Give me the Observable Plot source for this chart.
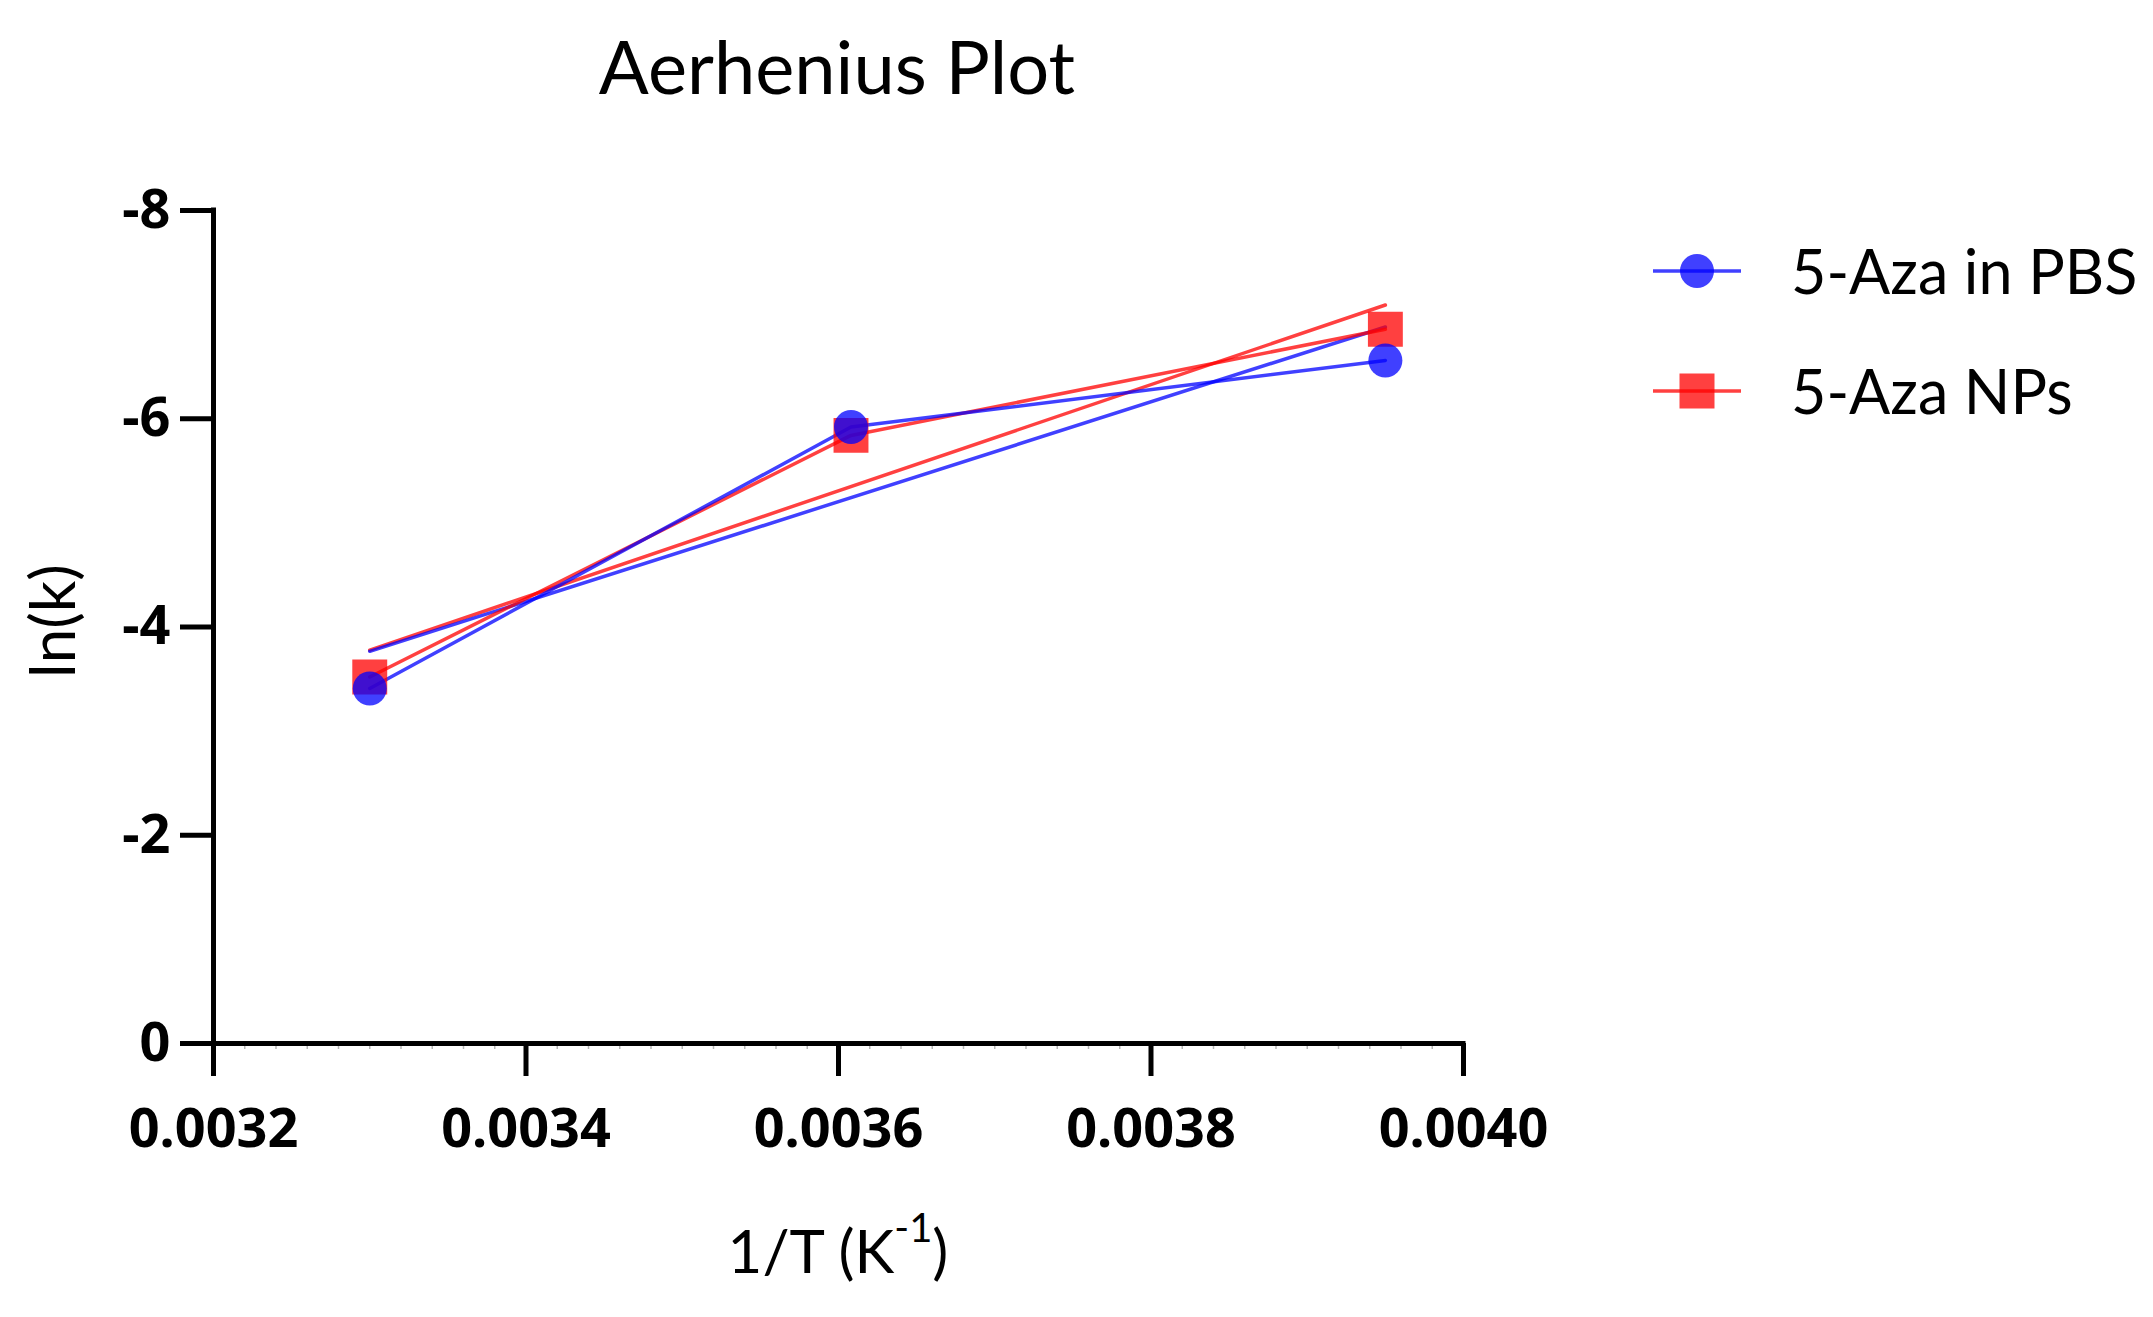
<!DOCTYPE html>
<html>
<head>
<meta charset="utf-8">
<script src="https://cdn.jsdelivr.net/npm/d3@7"></script>
<script src="https://cdn.jsdelivr.net/npm/@observablehq/plot@0.6"></script>
<style>
html, body { margin: 0; padding: 0; background: #fff; }
#fig { position: relative; width: 2153px; height: 1317px; color: #000; }
#fig > svg { position: absolute; left: 0; top: 0; }
</style>
</head>
<body>
<div id="fig"></div>
<script>
// ---- data ----
const invT = [0.0033, 0.003608, 0.00395];          // 1/T (K^-1)
const lnkPBS = [-3.41, -5.92, -6.56];              // 5-Aza in PBS
const lnkNPs = [-3.52, -5.84, -6.86];              // 5-Aza NPs
const seriesNames = ["5-Aza in PBS", "5-Aza NPs"];
const seriesColors = ["#0000ff", "#ff0000"];
const xTicks = [0.0032, 0.0034, 0.0036, 0.0038, 0.0040];
const yTicks = [-8, -6, -4, -2, 0];
const titleText = "Aerhenius Plot";
const yLabel = "ln(k)";

const rowsPBS = invT.map((x, i) => ({series: seriesNames[0], x, y: lnkPBS[i]}));
const rowsNPs = invT.map((x, i) => ({series: seriesNames[1], x, y: lnkNPs[i]}));
const rows = [...rowsNPs, ...rowsPBS];
const minorTicks = d3.range(0, 41).map(i => 0.0032 + i * 0.00002);

const chart = Plot.plot({
  width: 2153,
  height: 1317,
  marginLeft: 213,
  marginRight: 690,
  marginTop: 210,
  marginBottom: 274,
  x: {domain: [0.0032, 0.0040]},
  y: {domain: [0, -8]},
  color: {domain: seriesNames, range: seriesColors},
  style: {background: "transparent", overflow: "visible", color: "#000"},
  marks: [
    Plot.axisX({ticks: minorTicks, tickSize: 6, stroke: "#b5b5b5", strokeWidth: 1.5, text: null, label: null}),
    Plot.axisX({ticks: xTicks, tickSize: 33, tickPadding: 32, strokeWidth: 5,
      tickFormat: d3.format(".4f"), fontSize: 54, fontWeight: "bold", fontFamily: "Noto Sans", label: null}),
    Plot.axisY({ticks: yTicks, tickSize: 33, tickPadding: 10, strokeWidth: 5,
      tickFormat: d => String(d), fontSize: 54, fontWeight: "bold", fontFamily: "Noto Sans", label: null}),
    Plot.ruleX([0.0032], {y1: 0, y2: -8, strokeWidth: 5, strokeLinecap: "square"}),
    Plot.ruleY([0], {x1: 0.0032, x2: 0.0040, strokeWidth: 5, strokeLinecap: "square"}),
    Plot.linearRegressionY(rows, {x: "x", y: "y", stroke: "series", strokeWidth: 3.5, strokeOpacity: 0.75, ci: 0}),
    Plot.line(rows, {x: "x", y: "y", z: "series", stroke: "series", strokeWidth: 3.5, strokeOpacity: 0.75}),
    Plot.dot(rowsNPs, {x: "x", y: "y", symbol: "square", r: 19.7, fill: seriesColors[1], fillOpacity: 0.75, stroke: null}),
    Plot.dot(rowsPBS, {x: "x", y: "y", symbol: "circle", r: 17, fill: seriesColors[0], fillOpacity: 0.75, stroke: null})
  ]
});
document.getElementById("fig").appendChild(chart);

// ---- overlay: title, axis labels, legend ----
const ov = d3.select("#fig").append("svg")
  .attr("width", 2153).attr("height", 1317)
  .style("pointer-events", "none");

ov.append("text")
  .attr("x", 837).attr("y", 94)
  .attr("text-anchor", "middle")
  .attr("font-family", "Lato").attr("font-size", 74)
  .text(titleText);

const xl = ov.append("text")
  .attr("x", 838).attr("y", 1273)
  .attr("text-anchor", "middle")
  .attr("font-family", "Lato").attr("font-size", 60);
xl.append("tspan").text("1/T (K");
xl.append("tspan").attr("font-size", 40).attr("dy", -31).text("-1");
xl.append("tspan").attr("dy", 31).text(")");

ov.append("text")
  .attr("transform", "translate(75,621) rotate(-90)")
  .attr("text-anchor", "middle")
  .attr("font-family", "Lato").attr("font-size", 62)
  .text(yLabel);

const legendY = [271, 391];
seriesNames.forEach((name, i) => {
  const g = ov.append("g").attr("transform", `translate(0,${legendY[i]})`);
  g.append("line").attr("x1", 1653).attr("x2", 1741).attr("y1", 0).attr("y2", 0)
    .attr("stroke", seriesColors[i]).attr("stroke-opacity", 0.75).attr("stroke-width", 3.5);
  if (i === 0) {
    g.append("circle").attr("cx", 1697).attr("cy", 0).attr("r", 17)
      .attr("fill", seriesColors[i]).attr("fill-opacity", 0.75);
  } else {
    g.append("rect").attr("x", 1697 - 17.5).attr("y", -17.5).attr("width", 35).attr("height", 35)
      .attr("fill", seriesColors[i]).attr("fill-opacity", 0.75);
  }
  g.append("text").attr("x", 1791).attr("y", 23)
    .attr("font-family", "Lato").attr("font-size", 61)
    .text(name);
});
</script>
</body>
</html>
